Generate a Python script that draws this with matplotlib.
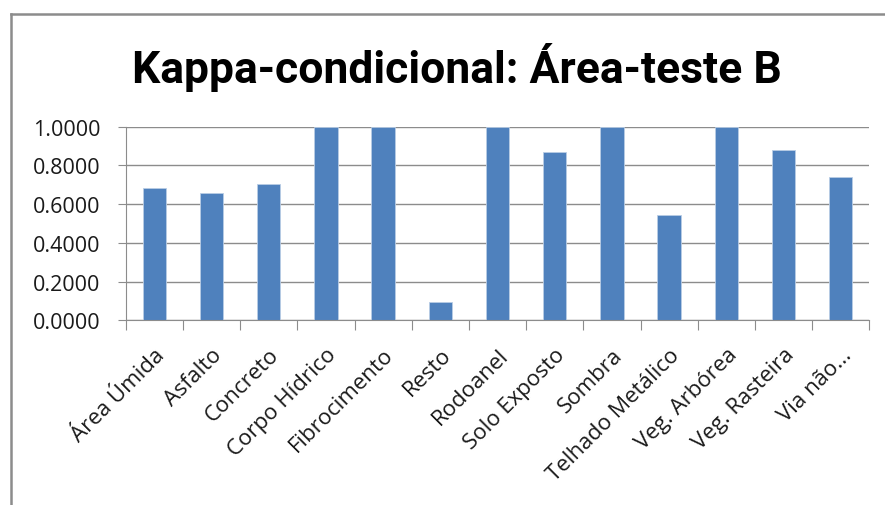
import matplotlib
matplotlib.use("Agg")
import matplotlib.pyplot as plt
from matplotlib.lines import Line2D

categories = ["Área Úmida", "Asfalto", "Concreto", "Corpo Hídrico", "Fibrocimento",
              "Resto", "Rodoanel", "Solo Exposto", "Sombra", "Telhado Metálico",
              "Veg. Arbórea", "Veg. Rasteira", "Via não..."]
values = [0.685, 0.659, 0.706, 1.0, 1.0, 0.095, 1.0, 0.871, 1.0, 0.546, 1.0, 0.878, 0.739]
yticks = [0.0, 0.2, 0.4, 0.6, 0.8, 1.0]
title = "Kappa-condicional: Área-teste B"

W, H = 885, 506
fig = plt.figure(figsize=(W / 100, H / 100), dpi=100)
font = ["Open Sans", "DejaVu Sans"]
tfont = ["Roboto", "DejaVu Sans"]

# outer frame (chart border, partially cropped)
gray = "#8c8c8c"
fig.add_artist(Line2D([11 / W, 11 / W], [0, 1 - 15 / H], transform=fig.transFigure,
                      color=gray, lw=1.8))
fig.add_artist(Line2D([11 / W, 1], [1 - 15 / H, 1 - 15 / H], transform=fig.transFigure,
                      color=gray, lw=1.8))

left, right = 125.7, 869.3
top, bottom = 127.7, 321.3
ax = fig.add_axes([left / W, 1 - bottom / H, (right - left) / W, (bottom - top) / H])

x = list(range(len(categories)))
ax.bar(x, values, width=0.41, color="#4F81BD", edgecolor="#b9cde5", linewidth=0.6, zorder=3)
ax.set_xlim(-0.5, len(categories) - 0.5)
ax.set_ylim(0, 1.0)

ax.set_yticks(yticks)
ax.set_yticklabels([f"{v:.4f}" for v in yticks], fontsize=15.5, family=font, color="#1a1a1a")
ax.yaxis.grid(True, color="#8c8c8c", lw=1.0, zorder=0)
ax.tick_params(axis="y", length=6, color=gray, pad=12)

ax.set_xticks([i - 0.5 for i in range(len(categories) + 1)], minor=False)
ax.set_xticklabels([])
ax.set_xticks(x, minor=True)
ax.set_xticklabels(categories, minor=True, rotation=45, ha="right", va="top",
                   rotation_mode="anchor", fontsize=16, family=font, color="#1a1a1a")
ax.tick_params(axis="x", which="major", length=7, color=gray)
ax.tick_params(axis="x", which="minor", length=0, pad=17)

for s in ["top", "right"]:
    ax.spines[s].set_visible(False)
ax.spines["left"].set_color(gray)
ax.spines["bottom"].set_color(gray)
ax.spines["bottom"].set_zorder(4)

fig.text(457 / W, 1 - 68 / H, title, ha="center", va="center", fontsize=32,
         fontweight="bold", family=tfont, color="black")

fig.savefig("out.png", dpi=100)
